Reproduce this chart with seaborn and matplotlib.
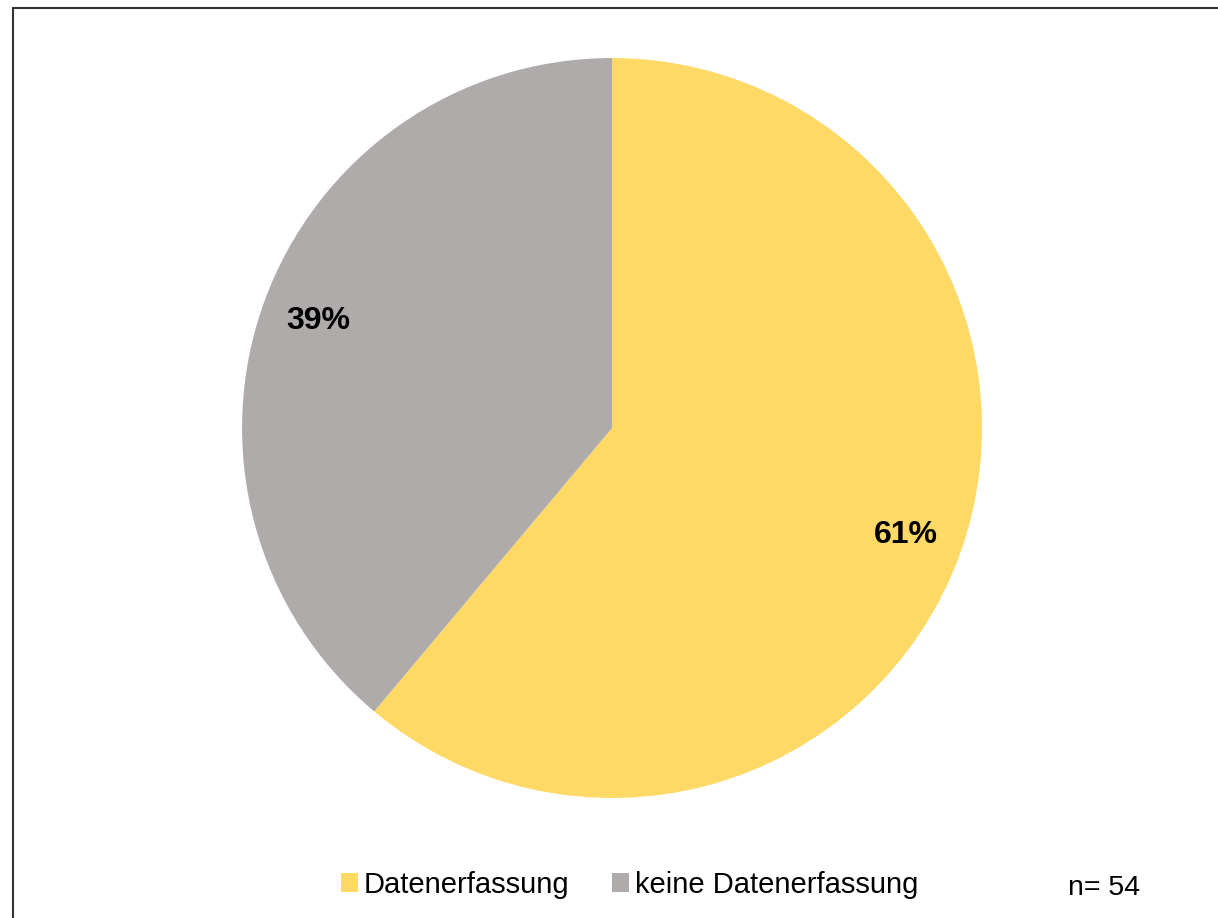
import matplotlib
matplotlib.use("Agg")
import matplotlib.pyplot as plt
import seaborn as sns
from matplotlib.lines import Line2D
from matplotlib.patches import Patch

# === data ===
categories = ["Datenerfassung", "keine Datenerfassung"]
counts = [33, 21]
colors = ["#FFD966", "#AFABAB"]
n_total = 54

sns.set_theme(style="white")
plt.rcParams["font.family"] = ["Liberation Sans", "DejaVu Sans"]
plt.rcParams["text.color"] = "black"

fig = plt.figure(figsize=(12.18, 9.18), dpi=100)
ax = fig.add_axes([0.1987, 0.1307, 0.6076, 0.8061])

wedges, texts, autotexts = ax.pie(
    counts,
    colors=colors,
    startangle=90,
    counterclock=False,
    autopct="%.0f%%",
    pctdistance=0.845,
    wedgeprops={"linewidth": 0},
    textprops={"fontsize": 23, "fontweight": "bold", "color": "black"},
)
ax.set_xlim(-1, 1)
ax.set_ylim(-1, 1)
ax.set_aspect("equal")
ax.axis("off")

# legend unten
handles = [Patch(facecolor=c, edgecolor="none") for c in colors]
fig.legend(handles, categories, loc="center", bbox_to_anchor=(0.517, 0.036),
           ncol=2, frameon=False, fontsize=21, handlelength=0.6, handleheight=0.6,
           handletextpad=0.2, columnspacing=1.45, labelcolor="black")

fig.text(1104 / 1218, 1 - 888 / 918, f"n= {n_total}", fontsize=20.5,
         ha="center", va="center", color="black")

# Rahmen (oben + links)
fig.add_artist(Line2D([0.0103, 0.0103], [0, 0.9918], transform=fig.transFigure,
                      color="#333333", linewidth=1.5))
fig.add_artist(Line2D([0.0103, 1.0], [0.9918, 0.9918], transform=fig.transFigure,
                      color="#333333", linewidth=1.5))

fig.savefig("out.png", dpi=100)
